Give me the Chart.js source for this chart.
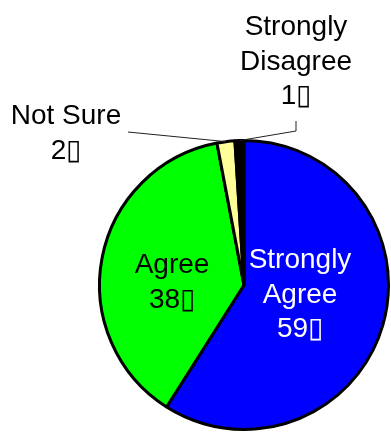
<!DOCTYPE html>
<html>
<head>
<meta charset="utf-8">
<script src="https://cdn.jsdelivr.net/npm/chart.js@4/dist/chart.umd.min.js"></script>
<style>
  html, body { margin: 0; padding: 0; background: #fff; }
  #wrap { width: 391px; height: 434px; }
</style>
</head>
<body>
<div id="wrap"><canvas id="pieChart" width="391" height="434"></canvas></div>
<script>
// 資料
const answerNames = ["Strongly\nAgree", "Agree", "Not Sure", "Strongly\nDisagree"];
const answerPct = [59, 38, 2, 1];
const sliceColors = ["#0000ff", "#00ff00", "#ffff99", "#000000"];
const textColors = ["#ffffff", "#000000", "#000000", "#000000"];

// 標籤位置 (x中心, 第一行基線) 與引線
const labelPos = [
  { x: 300, y: 268 },
  { x: 172, y: 273 },
  { x: 66, y: 124, line: [[128, 132]] },
  { x: 296, y: 35, line: [[296, 121], [296, 131]] }
];
const lineH = 34.5;

// 自訂標籤plugin
const pieLabels = {
  id: 'pieLabels',
  afterDatasetsDraw(chart) {
    const ctx = chart.ctx;
    const meta = chart.getDatasetMeta(0);
    ctx.save();
    meta.data.forEach(function (arc, i) {
      const pos = labelPos[i];
      // 引線
      if (pos.line) {
        const mid = (arc.startAngle + arc.endAngle) / 2;
        const ax = arc.x + Math.cos(mid) * arc.outerRadius;
        const ay = arc.y + Math.sin(mid) * arc.outerRadius;
        ctx.strokeStyle = '#222';
        ctx.lineWidth = 1;
        ctx.beginPath();
        ctx.moveTo(pos.line[0][0], pos.line[0][1]);
        for (let k = 1; k < pos.line.length; k++) ctx.lineTo(pos.line[k][0], pos.line[k][1]);
        ctx.lineTo(ax, ay);
        ctx.stroke();
      }
      const lines = answerNames[i].split("\n");
      lines.push(answerPct[i] + "\u25AF");
      ctx.fillStyle = textColors[i];
      ctx.font = '28px "Liberation Sans", Arial, sans-serif';
      ctx.textAlign = 'center';
      ctx.textBaseline = 'alphabetic';
      lines.forEach(function (t, j) {
        ctx.fillText(t, pos.x, pos.y + j * lineH);
      });
    });
    ctx.restore();
  }
};

new Chart(document.getElementById('pieChart'), {
  type: 'pie',
  data: {
    labels: answerNames,
    datasets: [{
      data: answerPct,
      backgroundColor: sliceColors,
      borderColor: '#000000',
      borderWidth: 3,
      borderAlign: 'center'
    }]
  },
  options: {
    responsive: false,
    animation: false,
    rotation: 0,
    layout: { padding: { left: 98, right: 1, top: 139, bottom: 3 } },
    plugins: {
      legend: { display: false },
      tooltip: { enabled: false }
    }
  },
  plugins: [pieLabels]
});
</script>
</body>
</html>
